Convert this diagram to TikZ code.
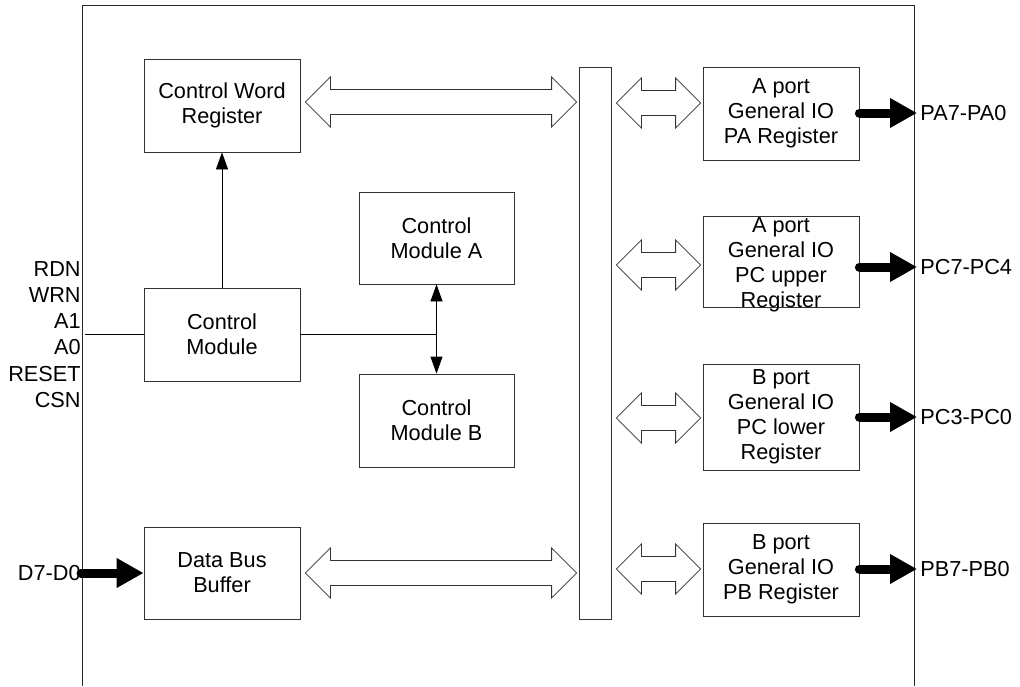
\documentclass[tikz,border=0pt]{standalone}
\usepackage{fontspec}
\setmainfont{Liberation Sans}
\usetikzlibrary{arrows.meta, calc, positioning}

\tikzset{
  blk/.style={draw=black!80, minimum width=156pt, minimum height=93pt, inner sep=0pt, align=center},
  sig/.style={-{Triangle[length=17pt, width=12pt]}},
  sigboth/.style={{Triangle[length=17pt, width=12pt]}-{Triangle[length=17pt, width=12pt]}},
  fat/.style={line width=9pt, line cap=round, -{Triangle[length=27pt, width=28pt]}},
  hollow/.style={draw=black!80, fill=white, line width=0.8pt},
  outlbl/.style={anchor=west, inner sep=3pt},
}

% hollow bus arrow: left node, right node, y
\newcommand{\busarrow}[3]{%
  \draw[hollow] let \p1=($(#1.east |- 0,#3)+(5,0)$), \p2=($(#2.west |- 0,#3)+(-2,0)$) in
    (\p1) -- ++(25pt,25pt) -- ++(0,-12.5pt) -- (\x2-25pt,\y1+12.5pt) -- ++(0,12.5pt) -- (\p2)
    -- ++(-25pt,-25pt) -- ++(0,12.5pt) -- (\x1+25pt,\y1-12.5pt) -- ++(0,-12.5pt) -- cycle;}

\begin{document}
\begin{tikzpicture}[x=1pt, y=-1pt, font=\fontsize{21.7}{25}\selectfont, line width=0.8pt]
\useasboundingbox (0,0) rectangle (1020,686);

% Outer frame
\draw[black!85] (82,686) -- (82,5) -- (914,5) -- (914,686);

% Blocks
\node[blk] (cwr) at (222,105.5) {Control Word\\Register};
\node[blk] (cm) at (222,334.5) {Control\\Module};
\node[blk, minimum width=155pt, minimum height=92pt] (cma) at (436.5,238) {Control\\Module A};
\node[blk, minimum width=155pt] (cmb) at (436.5,420.5) {Control\\Module B};
\node[blk, minimum height=92pt] (dbb) at (222,573) {Data Bus\\Buffer};
\node[draw=black!80, minimum width=32pt, minimum height=552pt] (bus) at (595,343) {};

% Port registers
\node[blk] (pa) at (781,113.5) {A port\\General IO\\PA Register};
\node[blk, minimum height=91pt] (pcu) at (781,261.5) {};
\node[align=center, inner sep=0pt] (pcutext) at (781,264.5) {A port\\General IO\\PC upper\\Register};
\node[blk, minimum height=106pt] (pcl) at (781,417) {B port\\General IO\\PC lower\\Register};
\node[blk] (pb) at (781,569.5) {B port\\General IO\\PB Register};

% Pins
\node[anchor=east, align=right, inner sep=0pt, font=\fontsize{21.7}{26.2}\selectfont] (ctl) at (81,334.5) {RDN\\WRN\\A1\\A0\\RESET\\CSN};
\node[anchor=east, inner sep=0pt] (din) at (81,573) {D7-D0};
\node[outlbl] (paout) at (917,113) {PA7-PA0};
\node[outlbl] (pcuout) at (917,267) {PC7-PC4};
\node[outlbl] (pclout) at (917,417) {PC3-PC0};
\node[outlbl] (pbout) at (917,569) {PB7-PB0};

% Control lines
\coordinate (ctlin) at ($(ctl.east |- cm.west)+(4,0)$);
\coordinate (split) at (cma.south |- cm.east);
\draw (ctlin) -- (cm.west);
\draw (cm.east) -- (split);
\draw[sig] (cm) -- (cwr);
\draw[sigboth] (cma) -- (cmb);

% Data lines
\draw[fat] (din.east) -- (dbb.west);
\draw[fat] (pa.east |- paout) -- (paout.west);
\draw[fat] (pcu.east |- pcuout) -- (pcuout.west);
\draw[fat] (pcl.east |- pclout) -- (pclout.west);
\draw[fat] (pb.east |- pbout) -- (pbout.west);

% Internal bus
\busarrow{cwr}{bus}{102}
\busarrow{dbb}{bus}{573}
\busarrow{bus}{pa}{103}
\busarrow{bus}{pcu}{265}
\busarrow{bus}{pcl}{418}
\busarrow{bus}{pb}{569}

\end{tikzpicture}
\end{document}
